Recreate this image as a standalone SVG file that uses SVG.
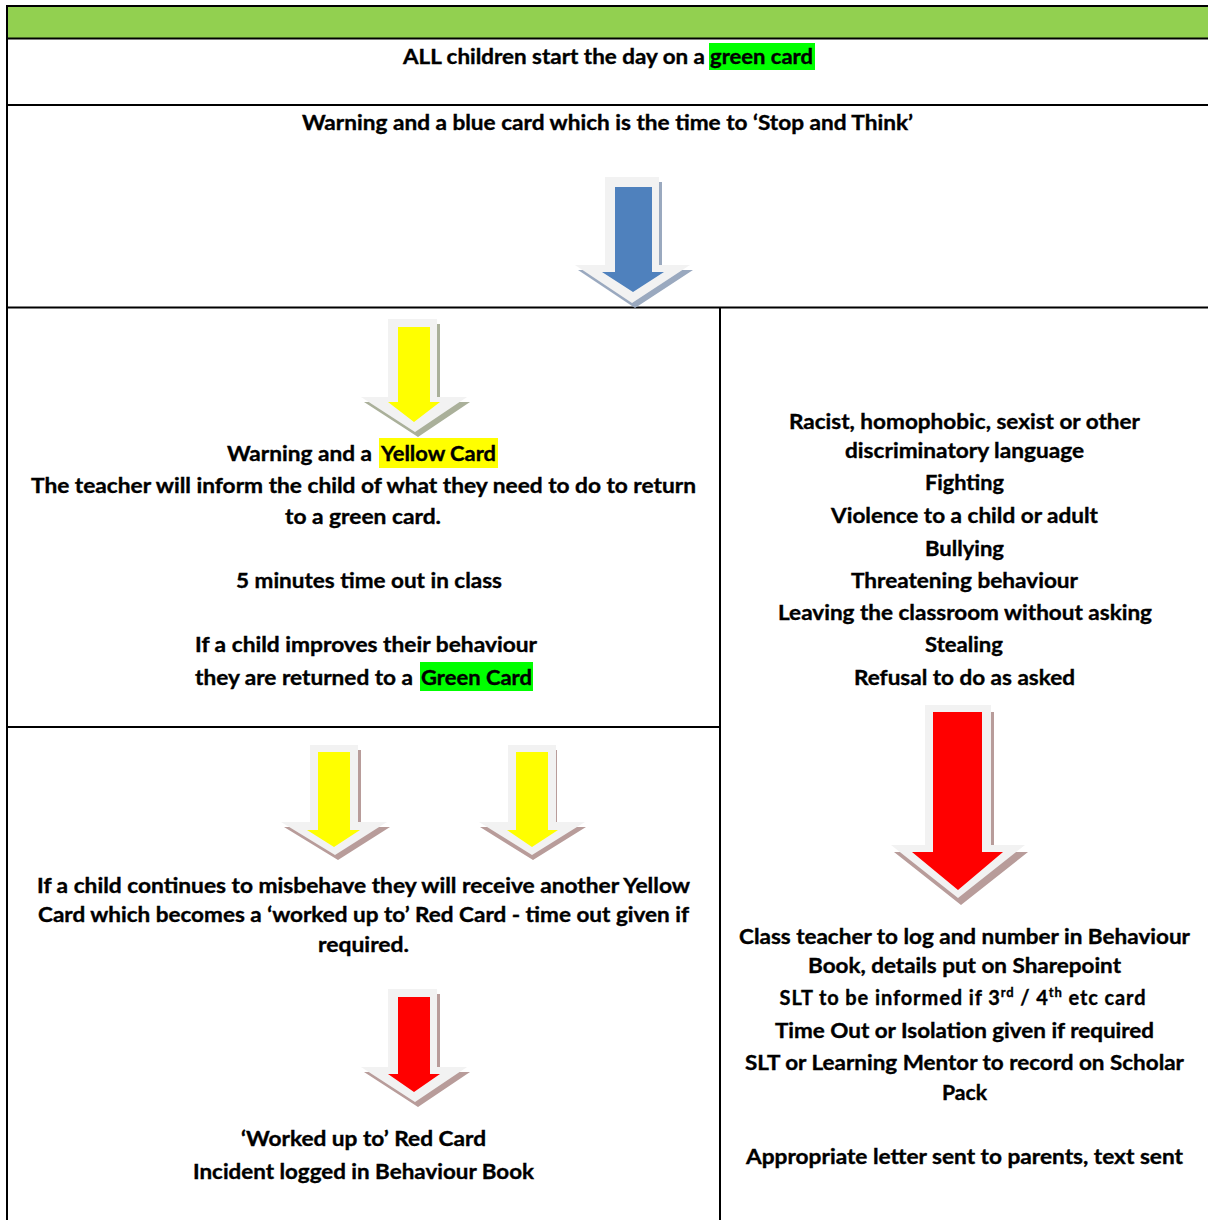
<svg xmlns="http://www.w3.org/2000/svg" width="1208" height="1220" viewBox="0 0 1208 1220">
<style>
.t{font-family:Lato,"Open Sans","Liberation Sans",sans-serif;font-weight:700;font-size:20px;fill:#000;stroke:#000;stroke-width:0.35}
.ln{stroke:#000;stroke-width:2;fill:none}
.outer{fill:#f2f2f2}
.shB{fill:#9aa9bf}
.shY{fill:#aab09a}
.shR{fill:#b89c9a}
.blue{fill:#4f81bd}
.yel{fill:#ffff00}
.red{fill:#ff0000}
.hg{fill:#00ff00}
.hy{fill:#ffff00}
</style>
<rect x="0" y="0" width="1208" height="1220" fill="#fff"/>
<rect x="7" y="6" width="1201" height="32.5" fill="#92d050"/>

<g id="grid">
<line class="ln" x1="6" y1="6" x2="1208" y2="6"/>
<line class="ln" x1="7" y1="5" x2="7" y2="1220"/>
<line class="ln" x1="6" y1="38.5" x2="1208" y2="38.5"/>
<line class="ln" x1="6" y1="105" x2="1208" y2="105"/>
<line class="ln" x1="6" y1="307.5" x2="1208" y2="307.5"/>
<line class="ln" x1="720" y1="307" x2="720" y2="1220"/>
<line class="ln" x1="6" y1="727" x2="720" y2="727"/>
</g>

<g id="node-green">
<rect class="hg" x="709" y="43" width="106" height="27"/>
<text class="t" x="403" y="64" textLength="302" lengthAdjust="spacingAndGlyphs">ALL children start the day on a</text>
<text class="t" x="710" y="64" textLength="103" lengthAdjust="spacingAndGlyphs">green card</text>
</g>

<g id="node-blue">
<text class="t" x="302" y="130" textLength="611" lengthAdjust="spacingAndGlyphs">Warning and a blue card which is the time to ‘Stop and Think’</text>
</g>

<g id="node-yellow">
<rect class="hy" x="379" y="438" width="119" height="30"/>
<text class="t" x="227" y="461" textLength="145" lengthAdjust="spacingAndGlyphs">Warning and a</text>
<text class="t" x="381" y="461" textLength="115" lengthAdjust="spacingAndGlyphs">Yellow Card</text>
<text class="t" x="31" y="493" textLength="665" lengthAdjust="spacingAndGlyphs">The teacher will inform the child of what they need to do to return</text>
<text class="t" x="285" y="524" textLength="156" lengthAdjust="spacingAndGlyphs">to a green card.</text>
<text class="t" x="236" y="588" textLength="266" lengthAdjust="spacingAndGlyphs">5 minutes time out in class</text>
<text class="t" x="195" y="652" textLength="342" lengthAdjust="spacingAndGlyphs">If a child improves their behaviour</text>
<rect class="hg" x="420" y="662" width="113" height="29"/>
<text class="t" x="195" y="685" textLength="218" lengthAdjust="spacingAndGlyphs">they are returned to a</text>
<text class="t" x="421" y="685" textLength="111" lengthAdjust="spacingAndGlyphs">Green Card</text>
</g>

<g id="node-workedup">
<text class="t" x="37" y="893" textLength="653" lengthAdjust="spacingAndGlyphs">If a child continues to misbehave they will receive another Yellow</text>
<text class="t" x="38" y="922" textLength="651" lengthAdjust="spacingAndGlyphs">Card which becomes a ‘worked up to’ Red Card - time out given if</text>
<text class="t" x="318" y="952" textLength="91" lengthAdjust="spacingAndGlyphs">required.</text>
<text class="t" x="241" y="1146" textLength="245" lengthAdjust="spacingAndGlyphs">‘Worked up to’ Red Card</text>
<text class="t" x="193" y="1179" textLength="341" lengthAdjust="spacingAndGlyphs">Incident logged in Behaviour Book</text>
</g>

<g id="node-serious">
<text class="t" x="789" y="429" textLength="351" lengthAdjust="spacingAndGlyphs">Racist, homophobic, sexist or other</text>
<text class="t" x="845" y="458" textLength="239" lengthAdjust="spacingAndGlyphs">discriminatory language</text>
<text class="t" x="925" y="490" textLength="79" lengthAdjust="spacingAndGlyphs">Fighting</text>
<text class="t" x="831" y="523" textLength="267" lengthAdjust="spacingAndGlyphs">Violence to a child or adult</text>
<text class="t" x="925" y="556" textLength="79" lengthAdjust="spacingAndGlyphs">Bullying</text>
<text class="t" x="851" y="588" textLength="227" lengthAdjust="spacingAndGlyphs">Threatening behaviour</text>
<text class="t" x="778" y="620" textLength="374" lengthAdjust="spacingAndGlyphs">Leaving the classroom without asking</text>
<text class="t" x="925" y="652" textLength="78" lengthAdjust="spacingAndGlyphs">Stealing</text>
<text class="t" x="854" y="685" textLength="221" lengthAdjust="spacingAndGlyphs">Refusal to do as asked</text>
</g>

<g id="node-actions">
<text class="t" x="739" y="944" textLength="451" lengthAdjust="spacingAndGlyphs">Class teacher to log and number in Behaviour</text>
<text class="t" x="808" y="973" textLength="313" lengthAdjust="spacingAndGlyphs">Book, details put on Sharepoint</text>
<text class="t" x="963" y="1005" text-anchor="middle" letter-spacing="0.9">SLT to be informed if 3<tspan font-size="13" dy="-8">rd</tspan><tspan dy="8"> / 4</tspan><tspan font-size="13" dy="-8">th</tspan><tspan dy="8"> etc card</tspan></text>
<text class="t" x="775" y="1038" textLength="379" lengthAdjust="spacingAndGlyphs">Time Out or Isolation given if required</text>
<text class="t" x="745" y="1070" textLength="439" lengthAdjust="spacingAndGlyphs">SLT or Learning Mentor to record on Scholar</text>
<text class="t" x="942" y="1100" textLength="45" lengthAdjust="spacingAndGlyphs">Pack</text>
<text class="t" x="746" y="1164" textLength="437" lengthAdjust="spacingAndGlyphs">Appropriate letter sent to parents, text sent</text>
</g>

<g id="arrows">
<g id="arrow-blue">
<path class="shB" transform="translate(3,5)" d="M605,177 H659 V265 H690 L632,303 L575,265 H605 Z"/>
<path class="outer" d="M605,177 H659 V265 H690 L632,303 L575,265 H605 Z"/>
<path class="blue" d="M615,187 H652 V272 H664 L633,292 L602,272 H615 Z"/>
</g>
<g id="arrow-yellow-1">
<path class="shY" transform="translate(3,5)" d="M388,319 H437 V397 H467 L415,432 L361,397 H388 Z"/>
<path class="outer" d="M388,319 H437 V397 H467 L415,432 L361,397 H388 Z"/>
<path class="yel" d="M398,327 H430 V402 H440 L414,422 L388,402 H398 Z"/>
</g>
<g id="arrow-yellow-2">
<path class="shR" transform="translate(3,5)" d="M310,745 H358 V822 H387 L335,855 L281,822 H310 Z"/>
<path class="outer" d="M310,745 H358 V822 H387 L335,855 L281,822 H310 Z"/>
<path class="yel" d="M318,752 H350 V830 H360 L334,847 L307,830 H318 Z"/>
</g>
<g id="arrow-yellow-3">
<path class="shR" transform="translate(1,5)" d="M508,745 H556 V822 H585 L532,855 L479,822 H508 Z"/>
<path class="outer" d="M508,745 H556 V822 H585 L532,855 L479,822 H508 Z"/>
<path class="yel" d="M516,752 H548 V830 H558 L532,847 L507,830 H516 Z"/>
</g>
<g id="arrow-red-1">
<path class="shR" transform="translate(3,5)" d="M388,989 H437 V1067 H467 L415,1102 L361,1067 H388 Z"/>
<path class="outer" d="M388,989 H437 V1067 H467 L415,1102 L361,1067 H388 Z"/>
<path class="red" d="M398,997 H430 V1074 H440 L414,1092 L388,1074 H398 Z"/>
</g>
<g id="arrow-red-2">
<path class="shR" transform="translate(3,7)" d="M925,705 H991 V845 H1025 L958,898 L891,845 H925 Z"/>
<path class="outer" d="M925,705 H991 V845 H1025 L958,898 L891,845 H925 Z"/>
<path class="red" d="M933,712 H982 V852 H1003 L958,890 L912,852 H933 Z"/>
</g>
</g>
</svg>
